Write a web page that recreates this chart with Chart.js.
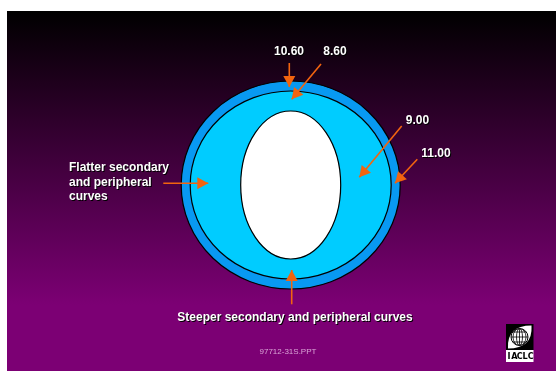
<!DOCTYPE html>
<html>
<head>
<meta charset="utf-8">
<script src="https://cdn.jsdelivr.net/npm/chart.js@4/dist/chart.umd.min.js"></script>
<style>
  html, body { margin: 0; padding: 0; background: #fff; }
  #lens { display: block; }
</style>
</head>
<body>
<canvas id="lens" width="556" height="371"></canvas>
<script>
// Lens zones, outer to inner (diagram units, y grows downward)
const lensCentre = [290.7, 185];
const zoneRadiusX = [109.5, 100.5, 50];
const zoneRadiusY = [104, 94, 74];

// Curve radii callouts
const curveLabels = ['10.60', '8.60', '9.00', '11.00'];
const curveArrowFrom = [[289.3, 63], [321, 64], [401.7, 126], [417.3, 159.3]];
const curveArrowTo = [[289.3, 87], [291.7, 99.3], [359.3, 177.3], [395, 183.3]];

// Notes on the peripheral curves
const noteLabels = [['Flatter secondary', 'and peripheral', 'curves'], ['Steeper secondary and peripheral curves']];
const noteArrowFrom = [[163.3, 183.3], [291.7, 304.3]];
const noteArrowTo = [[208.3, 183.3], [291.7, 270]];

const footerText = '97712-31S.PPT';
const logoText = 'IACLC';

// Styles / layout kept apart from the data
const zoneColors = ['#0899f2', '#00ccff', '#ffffff'];
const arrowColor = '#f2640f';
const curveLabelAt = [[289, 52], [335, 52], [417.5, 121], [436, 154]];
const noteLabelAt = [[69, 168, 'left'], [295, 318, 'center']];

const allFrom = curveArrowFrom.concat(noteArrowFrom);
const allTo = curveArrowTo.concat(noteArrowTo);

const arrowSets = allFrom.map((p, i) => ({
  data: [{ x: p[0], y: p[1] }, { x: allTo[i][0], y: allTo[i][1] }],
  borderColor: arrowColor,
  borderWidth: 1.6,
  pointRadius: 0,
  fill: false
}));

function shadowText(ctx, txt, x, y) {
  ctx.save();
  ctx.fillStyle = '#000';
  ctx.fillText(txt, x + 1, y + 1);
  ctx.restore();
  ctx.fillText(txt, x, y);
}

const slidePlugin = {
  id: 'slide',
  beforeDraw(chart) {
    const { ctx, scales: { x, y } } = chart;
    ctx.save();
    ctx.fillStyle = '#fff';
    ctx.fillRect(0, 0, chart.width, chart.height);
    const top = y.getPixelForValue(11), left = x.getPixelForValue(7);
    const g = ctx.createLinearGradient(0, top, 0, y.getPixelForValue(305));
    g.addColorStop(0, '#000000');
    g.addColorStop(1, '#7c0074');
    ctx.fillStyle = g;
    ctx.fillRect(left, top, chart.width - left, chart.height - top);
    ctx.restore();
  },
  beforeDatasetsDraw(chart) {
    const { ctx, scales: { x, y } } = chart;
    const cx = x.getPixelForValue(lensCentre[0]);
    const cy = y.getPixelForValue(lensCentre[1]);
    ctx.save();
    zoneRadiusX.forEach((rx, i) => {
      const px = x.getPixelForValue(lensCentre[0] + rx) - cx;
      const py = y.getPixelForValue(lensCentre[1] + zoneRadiusY[i]) - cy;
      ctx.beginPath();
      ctx.ellipse(cx, cy, px, py, 0, 0, Math.PI * 2);
      ctx.fillStyle = zoneColors[i];
      ctx.fill();
      ctx.lineWidth = 1.2;
      ctx.strokeStyle = '#000';
      ctx.stroke();
    });
    ctx.restore();
  },
  afterDatasetsDraw(chart) {
    const { ctx, scales: { x, y } } = chart;
    ctx.save();
    // arrowheads
    allTo.forEach((t, i) => {
      const tx = x.getPixelForValue(t[0]), ty = y.getPixelForValue(t[1]);
      const fx = x.getPixelForValue(allFrom[i][0]), fy = y.getPixelForValue(allFrom[i][1]);
      const a = Math.atan2(ty - fy, tx - fx);
      const len = 11, half = 6;
      ctx.beginPath();
      ctx.moveTo(tx, ty);
      ctx.lineTo(tx - len * Math.cos(a) - half * Math.sin(a), ty - len * Math.sin(a) + half * Math.cos(a));
      ctx.lineTo(tx - len * Math.cos(a) + half * Math.sin(a), ty - len * Math.sin(a) - half * Math.cos(a));
      ctx.closePath();
      ctx.fillStyle = arrowColor;
      ctx.fill();
    });

    // labels
    ctx.font = 'bold 12px "Liberation Sans", Arial, sans-serif';
    ctx.textBaseline = 'middle';
    ctx.fillStyle = '#fff';
    ctx.textAlign = 'center';
    curveLabels.forEach((l, i) => {
      shadowText(ctx, l, x.getPixelForValue(curveLabelAt[i][0]), y.getPixelForValue(curveLabelAt[i][1]));
    });
    noteLabels.forEach((lines, i) => {
      const at = noteLabelAt[i];
      ctx.textAlign = at[2];
      lines.forEach((l, k) => {
        shadowText(ctx, l, x.getPixelForValue(at[0]), y.getPixelForValue(at[1] + k * 14.5));
      });
    });

    // footer
    ctx.font = '8px "Liberation Sans", Arial, sans-serif';
    ctx.textAlign = 'left';
    ctx.fillStyle = '#d9a3d6';
    ctx.fillText(footerText, x.getPixelForValue(259.5), y.getPixelForValue(352));

    // logo
    const lx = x.getPixelForValue(506), ly = y.getPixelForValue(324);
    ctx.fillStyle = '#000';
    ctx.fillRect(lx, ly, 27.5, 26);
    ctx.beginPath();
    ctx.moveTo(lx + 2, ly + 24.5);
    ctx.quadraticCurveTo(lx + 0.5, ly + 1.5, lx + 25.5, ly + 1.5);
    ctx.quadraticCurveTo(lx + 27, ly + 24.5, lx + 2, ly + 24.5);
    ctx.fillStyle = '#fff';
    ctx.fill();
    const gx = lx + 13.5, gy = ly + 13, gr = 8.5;
    ctx.beginPath();
    ctx.arc(gx, gy, gr, 0, Math.PI * 2);
    ctx.fillStyle = '#fff';
    ctx.fill();
    ctx.lineWidth = 1;
    ctx.strokeStyle = '#000';
    ctx.stroke();
    ctx.save();
    ctx.clip();
    ctx.lineWidth = 0.8;
    [-5, 0, 5].forEach(d => {
      ctx.beginPath();
      ctx.moveTo(gx - gr, gy + d);
      ctx.lineTo(gx + gr, gy + d);
      ctx.stroke();
    });
    [3, 6.5].forEach(w => {
      ctx.beginPath();
      ctx.ellipse(gx, gy, w, gr, 0, 0, Math.PI * 2);
      ctx.stroke();
    });
    ctx.beginPath();
    ctx.moveTo(gx, gy - gr);
    ctx.lineTo(gx, gy + gr);
    ctx.stroke();
    ctx.restore();
    ctx.fillStyle = '#fff';
    ctx.fillRect(lx, ly + 26, 27.5, 12);
    ctx.fillStyle = '#000';
    ctx.font = 'bold 9px "DejaVu Sans Condensed", sans-serif';
    ctx.textAlign = 'center';
    ctx.textBaseline = 'middle';
    logoText.split('').forEach((c, k) => {
      ctx.fillText(c, lx + 3 + k * 5.4, ly + 32.5);
    });
    ctx.restore();
  }
};

const ctx = document.getElementById('lens').getContext('2d');
new Chart(ctx, {
  type: 'line',
  data: { datasets: arrowSets },
  options: {
    responsive: false,
    animation: false,
    layout: { padding: 0 },
    plugins: { legend: { display: false }, tooltip: { enabled: false } },
    scales: {
      x: { type: 'linear', display: false, min: 0, max: 556 },
      y: { type: 'linear', display: false, min: 0, max: 371, reverse: true }
    }
  },
  plugins: [slidePlugin]
});
</script>
</body>
</html>
